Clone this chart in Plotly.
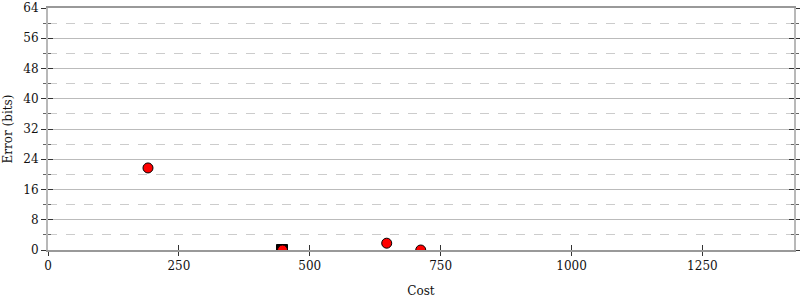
import plotly.graph_objects as go

# Data
red_cost = [191, 448, 647, 712]
red_error = [21.7, 0.0, 1.8, 0.0]
black_cost = [447]
black_error = [0.0]

x_ticks = [0, 250, 500, 750, 1000, 1250]
y_ticks = [0, 8, 16, 24, 32, 40, 48, 56, 64]
x_range = [0, 1425]
y_range = [0, 64]

FONT = "DejaVu Serif"
TICK = "#333333"

fig = go.Figure()
fig.add_trace(go.Scatter(
    x=black_cost, y=black_error, mode="markers",
    marker=dict(symbol="square", size=11, color="black", line=dict(color="black", width=1)),
    showlegend=False, hoverinfo="skip"))
fig.add_trace(go.Scatter(
    x=red_cost, y=red_error, mode="markers",
    marker=dict(symbol="circle", size=10, color="#ff0000", line=dict(color="black", width=1)),
    showlegend=False, hoverinfo="skip"))
fig.add_trace(go.Scatter(x=[None], y=[None], xaxis="x2", yaxis="y2", showlegend=False))

fig.update_layout(
    width=800, height=300,
    margin=dict(l=48, r=6, t=8, b=50, autoexpand=False),
    paper_bgcolor="white", plot_bgcolor="white",
    font=dict(family=FONT, size=12, color="#111111"),
    xaxis=dict(
        range=x_range, tickvals=x_ticks, ticks="outside", ticklen=4, tickcolor=TICK,
        showline=True, linecolor="#999999", linewidth=2, mirror=True,
        showgrid=False, zeroline=False, automargin=False,
        title=dict(text="Cost", font=dict(family=FONT, size=12), standoff=14),
    ),
    xaxis2=dict(
        range=x_range, overlaying="x", tickvals=x_ticks, ticks="inside", ticklen=5,
        tickcolor=TICK, showticklabels=False, showgrid=False, zeroline=False,
        showline=False, automargin=False,
    ),
    yaxis=dict(
        range=y_range, tickvals=y_ticks, ticks="outside", ticklen=5, tickcolor=TICK,
        showline=True, linecolor="#b8b8b8", linewidth=2, mirror="ticks",
        showgrid=True, gridcolor="#bbbbbb", gridwidth=1, zeroline=False, automargin=False,
        minor=dict(dtick=8, tick0=4, ticks="outside", ticklen=3, tickcolor="#666666",
                   showgrid=True, gridcolor="#cccccc", griddash="dash", gridwidth=1),
        title=dict(text="Error (bits)", font=dict(family=FONT, size=12), standoff=8),
    ),
    yaxis2=dict(
        range=y_range, overlaying="y", tickvals=y_ticks, ticks="inside", ticklen=5,
        tickcolor=TICK, showticklabels=False, showgrid=False, zeroline=False,
        showline=False, mirror="ticks", automargin=False,
        minor=dict(dtick=8, tick0=4, ticks="inside", ticklen=3, tickcolor="#666666"),
    ),
)

fig.write_html("out.html")
